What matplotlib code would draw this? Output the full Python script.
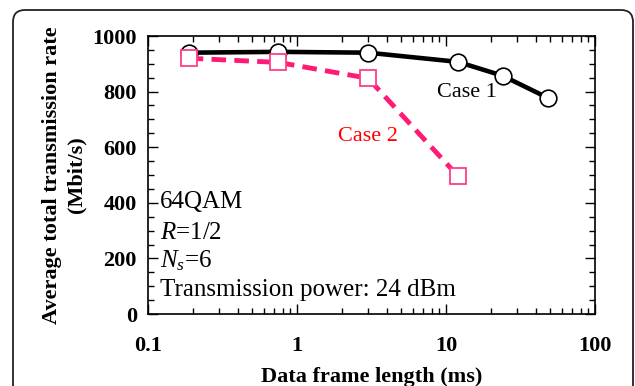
import matplotlib.pyplot as plt
from matplotlib.patches import FancyBboxPatch
from matplotlib.ticker import LogLocator, MultipleLocator, FixedLocator

# frame length (ms) and average total rate (Mbit/s)
case1_len = [0.1875, 0.75, 3, 12, 24, 48]
case1_rate = [940, 943, 940, 907, 857, 778]
case2_len = [0.1875, 0.75, 3, 12]
case2_rate = [920, 905, 848, 497]
x_ticks = [0.1, 1, 10, 100]
x_tick_labels = ['0.1', '1', '10', '100']

plt.rcParams['font.family'] = ['Liberation Serif', 'DejaVu Serif']
plt.rcParams['mathtext.fontset'] = 'custom'
plt.rcParams['mathtext.rm'] = 'Liberation Serif'
plt.rcParams['mathtext.it'] = 'Liberation Serif:italic'

fig = plt.figure(figsize=(6.35, 3.86), dpi=100)
ax = fig.add_axes([148 / 635, 1 - 314 / 386, 447 / 635, 278 / 386])

# rounded frame around the whole figure (inches)
frame = FancyBboxPatch((0.13, -0.5), 6.2, 4.26, transform=fig.dpi_scale_trans,
                       boxstyle='round,pad=0,rounding_size=0.12', fill=False,
                       edgecolor='#222222', lw=1.3, clip_on=False)
fig.patches.append(frame)

ax.plot(case1_len, case1_rate, color='black', lw=3.3, marker='o', ms=12,
        mfc='white', mec='black', mew=1.2, zorder=3)
ax.plot(case2_len, case2_rate, color='#ff1a75', lw=3.5, ls=(0, (3, 1.7)),
        zorder=4)
ax.plot(case2_len, case2_rate, ls='none', marker='s', ms=12, mfc='white',
        mec='#ff3d8a', mew=1.3, zorder=5)

ax.set_xscale('log')
ax.set_xlim(0.1, 100)
ax.set_ylim(0, 1000)
ax.xaxis.set_major_locator(FixedLocator(x_ticks))
ax.set_xticklabels(x_tick_labels)
ax.xaxis.set_minor_locator(LogLocator(base=10, subs=range(2, 10)))
ax.yaxis.set_major_locator(MultipleLocator(200))
ax.yaxis.set_minor_locator(MultipleLocator(50))
ax.tick_params(which='both', direction='in', top=True, right=True, width=1)
ax.tick_params(which='major', length=7, labelsize=16)
ax.tick_params(axis='x', which='major', pad=16)
ax.tick_params(axis='y', which='major', pad=8)
ax.tick_params(which='minor', length=4)
for lbl in ax.get_xticklabels() + ax.get_yticklabels():
    lbl.set_fontweight('bold')
for s in ax.spines.values():
    s.set_linewidth(1.2)

ax.set_xlabel('Data frame length (ms)', fontsize=16, fontweight='bold', labelpad=8)
ax.set_ylabel('Average total transmission rate\n(Mbit/s)', fontsize=16,
              fontweight='bold', labelpad=4, linespacing=1.3)

ax.text(13.8, 795, 'Case 1', fontsize=16, color='black', ha='center', va='center')
ax.text(3.0, 637, 'Case 2', fontsize=16, color='#ff0000', ha='center', va='center')

ax.text(0.12, 404, '64QAM', fontsize=18, va='center')
ax.text(0.12, 292, '$\\it{R}$=1/2', fontsize=18, va='center')
ax.text(0.12, 190, '$\\it{N_s}$=6', fontsize=18, va='center')
ax.text(0.12, 86, 'Transmission power: 24 dBm', fontsize=18, va='center')

fig.savefig('out.png', dpi=100)
